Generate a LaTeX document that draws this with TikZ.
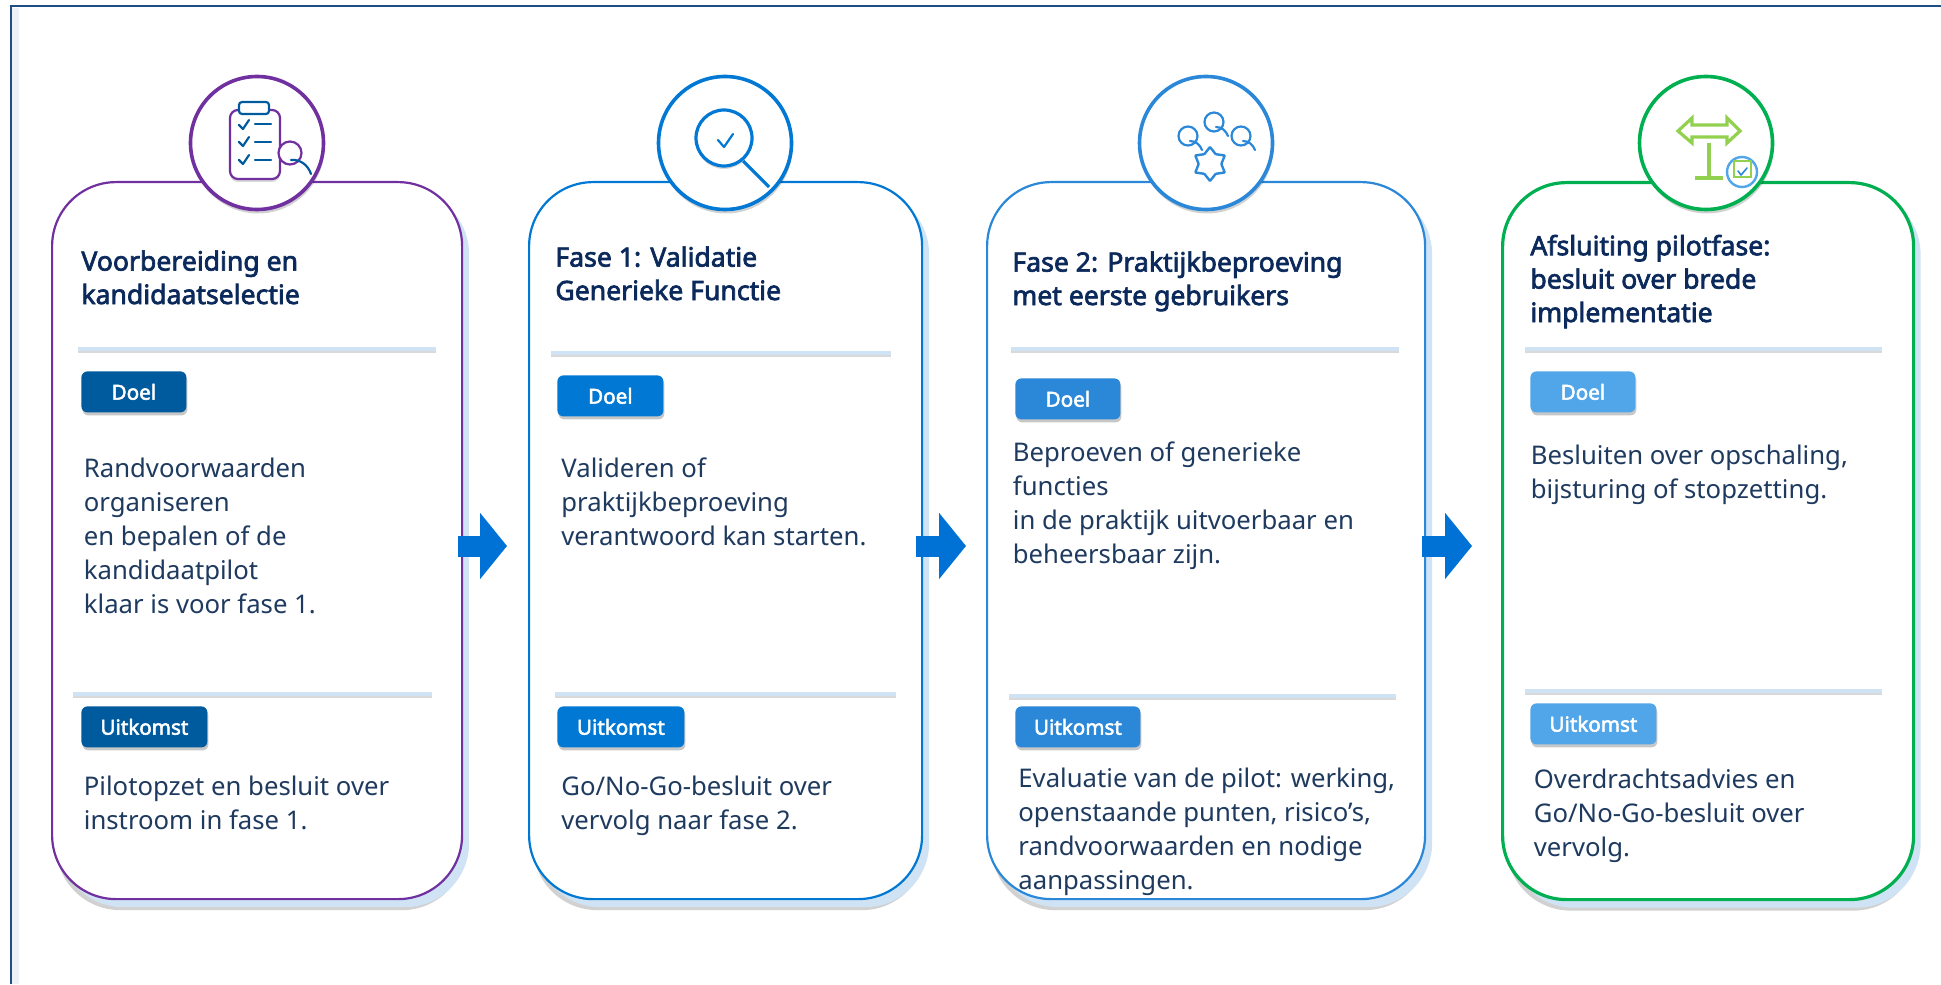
\documentclass[tikz,border=0pt]{standalone}
\usepackage{fontspec}
\setmainfont{Noto Sans}[BoldFont={Noto Sans}, BoldFeatures={FakeBold=2.6}]
\usetikzlibrary{arrows.meta, shadows, shapes.geometric}
\definecolor{framecol}{HTML}{1F4E86}
\definecolor{bandcol}{HTML}{EEF2F8}
\definecolor{backcol}{HTML}{CFE3F5}
\definecolor{purplecol}{HTML}{7030A0}
\definecolor{bluecol}{HTML}{0078D4}
\definecolor{midcol}{HTML}{2B88D8}
\definecolor{greencol}{HTML}{00B050}
\definecolor{lightcol}{HTML}{50A6E8}
\definecolor{darkcol}{HTML}{005A9E}
\definecolor{limecol}{HTML}{92D050}
\definecolor{titlecol}{HTML}{0B2A5B}
\definecolor{bodycol}{HTML}{1F3A5F}
\definecolor{arrowcol}{HTML}{0072D6}

\begin{document}
\begin{tikzpicture}[x=0.5pt, y=-0.5pt,
  cardbox/.style={rectangle, draw, line width=1.1pt, fill=white, rounded corners=32pt, anchor=north west, inner sep=0,
    general shadow={fill=black, opacity=.18, shadow xshift=2pt, shadow yshift=-5.5pt},
    general shadow={fill=backcol, shadow xshift=3.5pt, shadow yshift=-4pt}},
  ringnode/.style={circle, draw, line width=1.8pt, fill=white, minimum size=66.5pt, inner sep=0,
    general shadow={fill=black, opacity=.18, shadow xshift=.5pt, shadow yshift=-2pt}},
  badgebox/.style={rectangle, rounded corners=3pt, anchor=north west, inner sep=0, minimum height=20.5pt, text=white,
    font=\fontsize{10.3}{11}\selectfont\bfseries,
    general shadow={fill=black, opacity=.22, shadow xshift=.5pt, shadow yshift=-1.5pt}},
  rulebar/.style={rectangle, fill=backcol, anchor=west, inner sep=0, minimum height=1.6pt,
    general shadow={fill=black, opacity=.15, shadow yshift=-1.2pt}},
  titletext/.style={anchor=base west, inner sep=0, align=left, text=titlecol, font=\fontsize{13.3}{16.7}\selectfont\bfseries},
  bodytext/.style={anchor=base west, inner sep=0, align=left, text=bodycol, font=\fontsize{12.85}{16.9}\selectfont},
  flowarrow/.style={draw=arrowcol, line width=10.5pt, -{Triangle[length=13.5pt, width=32.5pt]}},
  frameline/.style={draw=framecol, line width=1pt},
  iconline/.style={line width=1.1pt, line cap=round, line join=round},
  limeline/.style={draw=limecol, line width=1.6pt}]
  \useasboundingbox (0,0) rectangle (1941,984);
  \fill [bandcol] (12,8) rectangle (19,984);
  \draw [frameline] (1941,6) -- (11,6) -- (11,984);

  \node (cardA) at (51,181) [cardbox, draw=purplecol, minimum width=205pt, minimum height=358.5pt] {};
  \node (cardB) at (528,181) [cardbox, draw=bluecol, minimum width=196.5pt, minimum height=358.5pt] {};
  \node (cardC) at (986,181) [cardbox, draw=midcol, minimum width=219pt, minimum height=358.5pt] {};
  \node (cardD) at (1501,181) [cardbox, draw=greencol, line width=1.6pt, minimum width=205.5pt, minimum height=358.5pt] {};

  \coordinate (flowlevel) at (0,546);
  \draw [flowarrow, shorten <=-2.5pt, shorten >=10.5pt] (cardA.east |- flowlevel) -- (cardB.west |- flowlevel);
  \draw [flowarrow, shorten <=-3.5pt, shorten >=10pt] (cardB.east |- flowlevel) -- (cardC.west |- flowlevel);
  \draw [flowarrow, shorten <=-2pt, shorten >=14.5pt] (cardC.east |- flowlevel) -- (cardD.west |- flowlevel);

  \node (ruleAa) at (78,349) [rulebar, minimum width=179pt] {};
  \node (ruleAb) at (73,694) [rulebar, minimum width=179.5pt] {};
  \node (ruleBa) at (551,353) [rulebar, minimum width=170pt] {};
  \node (ruleBb) at (555,694) [rulebar, minimum width=170.5pt] {};
  \node (ruleCa) at (1011,349) [rulebar, minimum width=194pt] {};
  \node (ruleCb) at (1009,696) [rulebar, minimum width=193.5pt] {};
  \node (ruleDa) at (1525,349) [rulebar, minimum width=178.5pt] {};
  \node (ruleDb) at (1525,691) [rulebar, minimum width=178.5pt] {};

  \node (doelA) at (81,371) [badgebox, fill=darkcol, minimum width=52.5pt] {Doel};
  \node (uitA) at (81,706) [badgebox, fill=darkcol, minimum width=63pt] {Uitkomst};
  \node (doelB) at (557,375) [badgebox, fill=bluecol, minimum width=53pt] {Doel};
  \node (uitB) at (557,706) [badgebox, fill=bluecol, minimum width=63.5pt] {Uitkomst};
  \node (doelC) at (1015,378) [badgebox, fill=midcol, minimum width=52.5pt] {Doel};
  \node (uitC) at (1015,706) [badgebox, fill=midcol, minimum width=62.5pt] {Uitkomst};
  \node (doelD) at (1530,371) [badgebox, fill=lightcol, minimum width=52.5pt] {Doel};
  \node (uitD) at (1530,703) [badgebox, fill=lightcol, minimum width=63pt] {Uitkomst};

  \node (titleA) at (81,304) [titletext] {Voorbereiding en\\kandidaatselectie};
  \node (titleB) at (555,300) [titletext] {Fase 1: Validatie\\Generieke Functie};
  \node (titleC) at (1012,305) [titletext] {Fase 2: Praktijkbeproeving\\met eerste gebruikers};
  \node (titleD) at (1530,322) [titletext] {Afsluiting pilotfase:\\besluit over brede\\implementatie};

  \node (doelTextA) at (83.5,613) [bodytext] {Randvoorwaarden\\organiseren\\en bepalen of de\\kandidaatpilot\\klaar is voor fase 1.};
  \node (uitTextA) at (83.5,829) [bodytext] {Pilotopzet en besluit over\\instroom in fase 1.};
  \node (doelTextB) at (561,545) [bodytext] {Valideren of\\praktijkbeproeving\\verantwoord kan starten.};
  \node (uitTextB) at (561,829) [bodytext] {Go/No-Go-besluit over\\vervolg naar fase 2.};
  \node (doelTextC) at (1012.5,563) [bodytext] {Beproeven of generieke\\functies\\in de praktijk uitvoerbaar en\\beheersbaar zijn.};
  \node (uitTextC) at (1018,889) [bodytext] {Evaluatie van de pilot: werking,\\openstaande punten, risico’s,\\randvoorwaarden en nodige\\aanpassingen.};
  \node (doelTextD) at (1530.5,498) [bodytext] {Besluiten over opschaling,\\bijsturing of stopzetting.};
  \node (uitTextD) at (1533.5,856) [bodytext] {Overdrachtsadvies en\\Go/No-Go-besluit over\\vervolg.};

  \node (ringA) at (257,143) [ringnode, draw=purplecol] {};
  \node (ringB) at (725,143) [ringnode, draw=bluecol] {};
  \node (ringC) at (1206,143) [ringnode, draw=midcol] {};
  \node (ringD) at (1706,143) [ringnode, draw=greencol] {};

  \draw [iconline, draw=purplecol, fill=white, rounded corners=4pt, general shadow={fill=black, opacity=.15, shadow yshift=-1.5pt}] (230,110) rectangle (280,179);
  \draw [iconline, draw=darkcol, fill=white, rounded corners=1.5pt] (239,102) rectangle (269,114);
  \draw [iconline, draw=darkcol] (239,125) -- (243,129) -- (249,120);
  \draw [iconline, draw=darkcol] (239,142) -- (243,146) -- (249,137);
  \draw [iconline, draw=darkcol] (239,160) -- (243,164) -- (249,155);
  \draw [iconline, draw=darkcol] (255,124) -- (271,124);
  \draw [iconline, draw=darkcol] (255,142) -- (271,142);
  \draw [iconline, draw=darkcol] (255,160) -- (271,160);
  \draw [iconline, draw=purplecol, fill=white] (290,153) circle [radius=11.5];
  \draw [iconline, draw=darkcol] (291,160) .. controls (300,159) and (308,165) .. (311,174);

  \draw [draw=bluecol, line width=1.6pt, fill=white, general shadow={fill=black, opacity=.15, shadow yshift=-1.5pt}] (724,138) circle [radius=28];
  \draw [draw=bluecol, line width=1.6pt] (743,161) -- (769,187);
  \draw [iconline, draw=bluecol] (718,140) -- (724,147) -- (733,134);

  \draw [iconline, draw=midcol, fill=white] (1188,136) circle [radius=9.5];
  \draw [iconline, draw=midcol] (1190,141) .. controls (1196,141) and (1200,145) .. (1202,150);
  \draw [iconline, draw=midcol, fill=white] (1214,122) circle [radius=9.5];
  \draw [iconline, draw=midcol] (1216,127) .. controls (1222,127) and (1226,131) .. (1228,136);
  \draw [iconline, draw=midcol, fill=white] (1241,136) circle [radius=9.5];
  \draw [iconline, draw=midcol] (1243,141) .. controls (1249,141) and (1253,145) .. (1255,150);
  \node (gearC) at (1210,164) [star, star points=6, star point ratio=1.5, draw=midcol, line width=1.2pt, fill=white, minimum size=17pt, inner sep=0, rounded corners=.4pt] {};

  \draw [limeline, fill=white] (1678,131) -- (1692,118) -- (1692,125) -- (1727,125) -- (1727,118) -- (1740,131) -- (1727,143) -- (1727,137) -- (1692,137) -- (1692,143) -- cycle;
  \draw [limeline] (1709,143) -- (1709,178);
  \draw [limeline] (1695,178) -- (1723,178);
  \draw [draw=lightcol, line width=1.2pt, fill=white] (1742,172) circle [radius=15];
  \draw [draw=limecol, line width=.7pt] (1734,161) rectangle (1751,177);
  \draw [iconline, draw=midcol, line width=.8pt] (1738,171) -- (1741,175) -- (1747,168);
\end{tikzpicture}
\end{document}
